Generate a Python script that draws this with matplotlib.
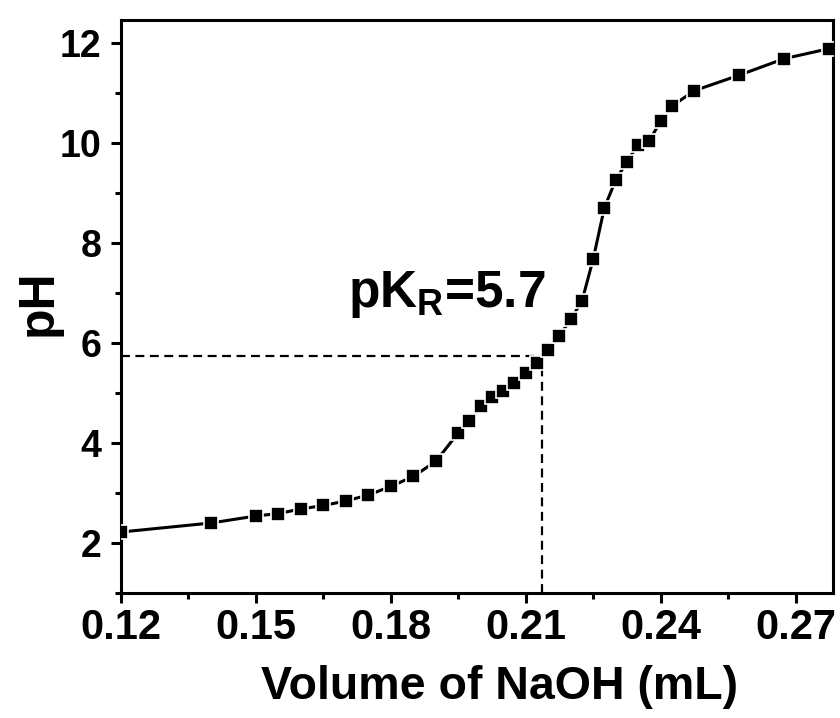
import numpy as np
import matplotlib

matplotlib.use("Agg")
import matplotlib.pyplot as plt
from matplotlib.ticker import MultipleLocator, FormatStrFormatter

# titration curve: volume of NaOH added (mL) and measured pH
volume = [0.12, 0.14, 0.15, 0.155, 0.16, 0.165, 0.17, 0.175, 0.18, 0.185,
          0.19, 0.195, 0.1975, 0.20, 0.2025, 0.205, 0.2075, 0.21, 0.2125,
          0.215, 0.2175, 0.22, 0.2225, 0.225, 0.2275, 0.23, 0.2325, 0.235,
          0.2375, 0.24, 0.2425, 0.2475, 0.2575, 0.2675, 0.2775]
ph = [2.22, 2.40, 2.54, 2.59, 2.68, 2.75, 2.84, 2.96, 3.13, 3.33,
      3.63, 4.20, 4.43, 4.73, 4.92, 5.04, 5.20, 5.40, 5.59,
      5.86, 6.14, 6.47, 6.83, 7.67, 8.70, 9.25, 9.62, 9.96,
      10.04, 10.43, 10.73, 11.04, 11.35, 11.68, 11.88]

# half-equivalence point read-off
pk_volume = 0.2137
pk_value = 5.74

FONT = "Liberation Sans"
plt.rcParams["mathtext.fontset"] = "custom"
plt.rcParams["mathtext.rm"] = FONT + ":bold"
plt.rcParams["mathtext.bf"] = FONT + ":bold"

fig = plt.figure(figsize=(8.4, 7.18), dpi=100)
ax = fig.add_axes([0.144, 0.174, 0.848, 0.798])

ax.plot(volume, ph, "-", color="black", lw=2.2, marker="s", ms=10.5,
        mfc="black", mec="white", mew=1.2, zorder=3)

ax.plot([0.12, pk_volume], [pk_value, pk_value], color="black",
        lw=1.6, dashes=(4, 2.5), zorder=2)
ax.plot([pk_volume, pk_volume], [1.0, pk_value], color="black",
        lw=1.6, dashes=(4, 2.5), zorder=2)

ax.text(0.1705, 6.71, r"pK$_{\mathbf{R}}$=5.7", fontsize=37, family=FONT,
        fontweight="bold", ha="left", va="baseline")

ax.set_xlim(0.12, 0.2784)
ax.set_ylim(1.0, 12.45)
ax.xaxis.set_major_locator(MultipleLocator(0.03))
ax.xaxis.set_minor_locator(MultipleLocator(0.015))
ax.xaxis.set_major_formatter(FormatStrFormatter("%.2f"))
ax.yaxis.set_major_locator(MultipleLocator(2))
ax.yaxis.set_minor_locator(MultipleLocator(1))

for s in ax.spines.values():
    s.set_linewidth(2.2)
ax.tick_params(which="major", direction="out", length=7, width=2.2)
ax.tick_params(which="minor", direction="out", length=4, width=2.2)
ax.tick_params(axis="x", which="major", labelsize=30, pad=4)
ax.tick_params(axis="y", which="major", labelsize=27, pad=7)
for lab in ax.get_xticklabels() + ax.get_yticklabels():
    lab.set_family(FONT)
    lab.set_fontweight("bold")

ax.set_xlabel("Volume of NaOH (mL)", fontsize=33.5, family=FONT,
              fontweight="bold")
ax.xaxis.set_label_coords(0.531, -0.126)
ax.set_ylabel("pH", fontsize=36, family=FONT, fontweight="bold")
ax.yaxis.set_label_coords(-0.083, 0.506)

fig.savefig("out.png", dpi=100)
